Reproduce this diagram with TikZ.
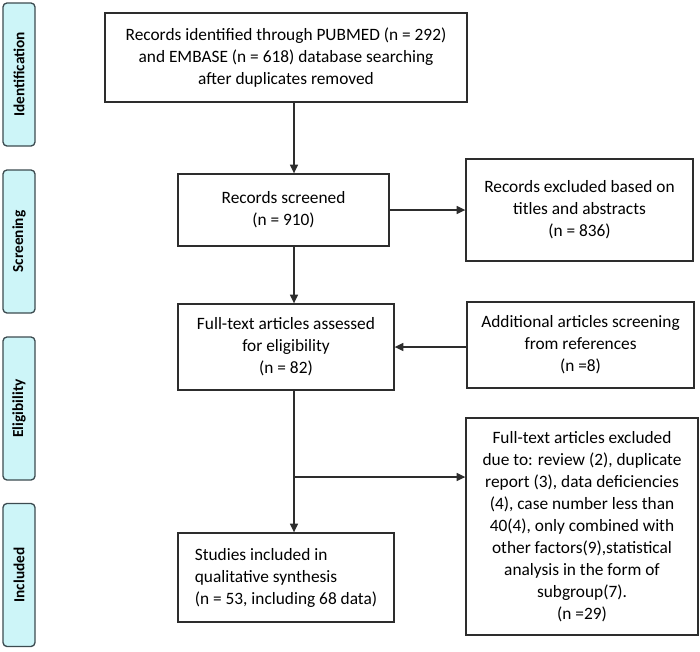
\documentclass[tikz,border=0pt]{standalone}
\usepackage{fontspec}
\setmainfont{Carlito}
\usepackage{tikz}
\usetikzlibrary{arrows,arrows.meta,shapes,positioning}
\usepackage{xcolor}
\definecolor{prgray}{RGB}{45,45,45}
\definecolor{prcyan}{RGB}{205,245,248}
\definecolor{prborder}{RGB}{60,75,80}
\tikzstyle{stagebox} = [rectangle, minimum width=162pt, minimum height=64.5pt, text centered, align=center, draw=prgray, line width=1pt, inner sep=2pt, font=\fontsize{13}{16.5}\selectfont]
\tikzstyle{phase} = [rectangle, rounded corners=3pt, minimum height=24pt, minimum width=107.25pt, draw=prborder, fill=prcyan, line width=1pt, rotate=90, font=\fontsize{11.5}{14}\selectfont\bfseries]
\tikzstyle{arrow} = [line width=1pt,->,>={Stealth[length=6.5pt,width=6pt,inset=0pt]},color=prgray]

\begin{document}
\begin{tikzpicture}[x=0.75pt,y=-0.75pt]
\useasboundingbox (0,0) rectangle (700,651);

% Phases
\node[phase] (idph) at (19,74.5) {Identification};
\node[phase] (scph) at (19,241.5) {Screening};
\node[phase] (elph) at (19,408.5) {Eligibility};
\node[phase] (inph) at (19,575) {Included};

% Main column
\node[stagebox, minimum width=271.5pt, minimum height=66.75pt] (ident) at (286,57.5) {Records identified through PUBMED (n = 292)\\and EMBASE (n = 618) database searching\\after duplicates removed};
\node[stagebox, minimum width=158.25pt, minimum height=54pt] (screen) at (283.5,210) {Records screened\\(n = 910)};
\node[stagebox] (full) at (286,347) {Full-text articles assessed\\for eligibility\\(n = 82)};
\node[stagebox, minimum height=66.75pt, align=left] (incl) at (286,577.5) {Studies included in\\qualitative synthesis\\(n = 53, including 68 data)};

% Side column
\node[stagebox, minimum width=170.25pt, minimum height=76.5pt] (excl) at (579.5,210) {Records excluded based on\\titles and abstracts\\(n = 836)};
\node[stagebox, minimum width=170.25pt] (addl) at (580.5,345) {Additional articles screening\\from references\\(n =8)};
\node[stagebox, minimum width=174pt, minimum height=162.75pt] (exft) at (582,526.5) {Full-text articles excluded\\due to: review (2), duplicate\\report (3), data deficiencies\\(4), case number less than\\40(4), only combined with\\other factors(9),statistical\\analysis in the form of\\subgroup(7).\\(n =29)};

% Spine
\coordinate (spine) at (294,0);
\coordinate (split) at (294,477);

% Arrows
\draw[arrow] (ident.south -| spine) -- (screen.north -| spine);
\draw[arrow] (screen.east |- excl) -- (excl.west);
\draw[arrow] (screen.south -| spine) -- (full.north -| spine);
\draw[arrow] (addl.west |- full) -- (full.east);
\draw[arrow] (full.south -| spine) -- (incl.north -| spine);
\draw[arrow] (split) -- (split -| exft.west);
\end{tikzpicture}
\end{document}
